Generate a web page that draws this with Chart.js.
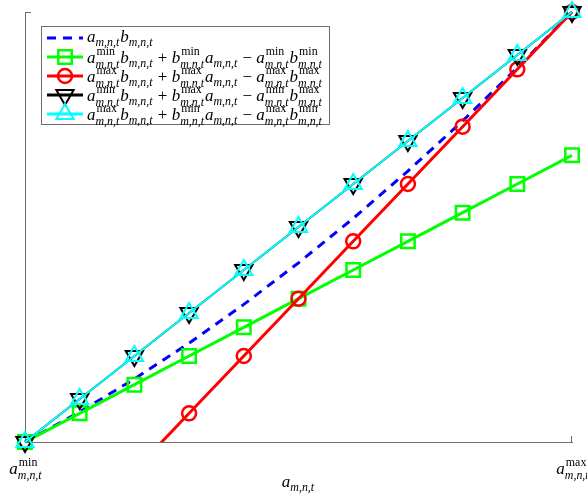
<!DOCTYPE html>
<html>
<head>
<meta charset="utf-8">
<script src="https://cdn.jsdelivr.net/npm/chart.js@4.4.1/dist/chart.umd.min.js"></script>
<style>
  html, body { margin: 0; padding: 0; background: #fff; }
  #wrap { position: relative; width: 587px; height: 497px; }
</style>
</head>
<body>
<div id="wrap"><canvas id="envChart"></canvas></div>
<script>
// a_{m,n,t} sampled between a^min and a^max
const aValues = [1, 1.1, 1.2, 1.3, 1.4, 1.5, 1.6, 1.7, 1.8, 1.9, 2];
const productVals = [1, 1.21, 1.44, 1.69, 1.96, 2.25, 2.56, 2.89, 3.24, 3.61, 4];
const underMinVals = [1, 1.2, 1.4, 1.6, 1.8, 2, 2.2, 2.4, 2.6, 2.8, 3];
const underMaxVals = [0, 0.4, 0.8, 1.2, 1.6, 2, 2.4, 2.8, 3.2, 3.6, 4];
const overMinMaxVals = [1, 1.3, 1.6, 1.9, 2.2, 2.5, 2.8, 3.1, 3.4, 3.7, 4];
const overMaxMinVals = [1, 1.3, 1.6, 1.9, 2.2, 2.5, 2.8, 3.1, 3.4, 3.7, 4];

const xMinLabel = [["a", "min", "m,n,t"]];
const xMaxLabel = [["a", "max", "m,n,t"]];
const xTitle = [["a", "", "m,n,t"]];

// legend formulas: strings are operators, arrays are [base, sup, sub]
const legendTerms = [
  [["a", "", "m,n,t"], ["b", "", "m,n,t"]],
  [["a", "min", "m,n,t"], ["b", "", "m,n,t"], " + ", ["b", "min", "m,n,t"], ["a", "", "m,n,t"], " \u2212 ", ["a", "min", "m,n,t"], ["b", "min", "m,n,t"]],
  [["a", "max", "m,n,t"], ["b", "", "m,n,t"], " + ", ["b", "max", "m,n,t"], ["a", "", "m,n,t"], " \u2212 ", ["a", "max", "m,n,t"], ["b", "max", "m,n,t"]],
  [["a", "min", "m,n,t"], ["b", "", "m,n,t"], " + ", ["b", "max", "m,n,t"], ["a", "", "m,n,t"], " \u2212 ", ["a", "min", "m,n,t"], ["b", "max", "m,n,t"]],
  [["a", "max", "m,n,t"], ["b", "", "m,n,t"], " + ", ["b", "min", "m,n,t"], ["a", "", "m,n,t"], " \u2212 ", ["a", "max", "m,n,t"], ["b", "min", "m,n,t"]],
];

const AXIS = "#6e6e6e";
const SERIF = '"Liberation Serif", "DejaVu Serif", serif';

function pts(vals) {
  return aValues.map((a, i) => ({ x: a, y: vals[i] }));
}

function drawMath(ctx, x, y, tokens, size, align) {
  const small = size * 0.7;
  const pieces = [];
  let w = 0;
  for (const t of tokens) {
    if (typeof t === "string") {
      ctx.font = `${size}px ${SERIF}`;
      const tw = ctx.measureText(t).width;
      pieces.push({ kind: "op", t, w: tw });
      w += tw;
    } else {
      ctx.font = `italic ${size}px ${SERIF}`;
      const bw = ctx.measureText(t[0]).width;
      ctx.font = `${small}px ${SERIF}`;
      const supw = t[1] ? ctx.measureText(t[1]).width : 0;
      ctx.font = `italic ${small}px ${SERIF}`;
      const subw = t[2] ? ctx.measureText(t[2]).width : 0;
      const tw = bw + Math.max(supw + 1, subw) + 1;
      pieces.push({ kind: "sym", t, bw, w: tw });
      w += tw;
    }
  }
  let cx = align === "center" ? x - w / 2 : x;
  ctx.textBaseline = "alphabetic";
  ctx.textAlign = "left";
  ctx.fillStyle = "#000";
  for (const p of pieces) {
    if (p.kind === "op") {
      ctx.font = `${size}px ${SERIF}`;
      ctx.fillText(p.t, cx, y);
    } else {
      const [base, sup, sub] = p.t;
      ctx.font = `italic ${size}px ${SERIF}`;
      ctx.fillText(base, cx, y);
      const sx = cx + p.bw;
      if (sup) {
        ctx.font = `${small}px ${SERIF}`;
        ctx.fillText(sup, sx + 1, y - size * 0.5);
      }
      if (sub) {
        ctx.font = `italic ${small}px ${SERIF}`;
        ctx.fillText(sub, sx, y + size * (sup ? 0.3 : 0.22));
      }
    }
    cx += p.w;
  }
}

function markerAt(ctx, ds, x, y) {
  if (!ds.pointRadius) return;
  const opts = {
    pointStyle: ds.pointStyle,
    radius: ds.pointRadius,
    rotation: ds.pointRotation || 0,
    borderWidth: ds.pointBorderWidth,
  };
  ctx.strokeStyle = ds.borderColor;
  ctx.fillStyle = "rgba(0,0,0,0)";
  ctx.lineWidth = ds.pointBorderWidth;
  ctx.setLineDash([]);
  Chart.helpers.drawPoint(ctx, opts, x, y);
}

const decorPlugin = {
  id: "decor",
  afterDraw(chart) {
    const ctx = chart.ctx;
    const { left, right, top, bottom } = chart.chartArea;
    ctx.save();
    // small inward ticks at axis ends
    ctx.strokeStyle = AXIS;
    ctx.lineWidth = 1;
    ctx.beginPath();
    ctx.moveTo(left, top + 0.5);
    ctx.lineTo(left + 6, top + 0.5);
    ctx.moveTo(right - 0.5, bottom);
    ctx.lineTo(right - 0.5, bottom - 6);
    ctx.stroke();

    // x tick labels and title
    drawMath(ctx, left + 1, bottom + 32, xMinLabel, 17, "center");
    drawMath(ctx, right + 1, bottom + 32, xMaxLabel, 17, "center");
    drawMath(ctx, (left + right) / 2, bottom + 45, xTitle, 17, "center");

    // legend box
    const lx = 41.5, ly = 26.5, lw = 288, lh = 98;
    ctx.fillStyle = "#fff";
    ctx.fillRect(lx, ly, lw, lh);
    ctx.strokeStyle = AXIS;
    ctx.lineWidth = 1;
    ctx.strokeRect(lx, ly, lw, lh);
    const rows = [38, 57, 76, 95, 114];
    const dsets = chart.data.datasets;
    rows.forEach((ry, i) => {
      const ds = dsets[i];
      ctx.strokeStyle = ds.borderColor;
      ctx.lineWidth = 3;
      ctx.setLineDash(ds.borderDash || []);
      ctx.beginPath();
      ctx.moveTo(47, ry);
      ctx.lineTo(83, ry);
      ctx.stroke();
      markerAt(ctx, ds, 65, ry);
      drawMath(ctx, 87, ry + (i === 0 ? 4 : 6), legendTerms[i], 17, "left");
    });
    ctx.restore();
  },
};

new Chart(document.getElementById("envChart"), {
  type: "line",
  data: {
    datasets: [
      {
        label: "a b",
        data: pts(productVals),
        borderColor: "#0000ff",
        borderWidth: 3,
        borderDash: [9, 7],
        pointRadius: 0,
        clip: false,
        order: 5,
      },
      {
        label: "under min",
        data: pts(underMinVals),
        borderColor: "#00ff00",
        borderWidth: 3,
        pointStyle: "rect",
        pointRadius: 9.5,
        pointBorderWidth: 2.5,
        pointBackgroundColor: "rgba(0,0,0,0)",
        clip: false,
        order: 4,
      },
      {
        label: "under max",
        data: pts(underMaxVals),
        borderColor: "#ff0000",
        borderWidth: 3,
        pointStyle: "circle",
        pointRadius: 7,
        pointBorderWidth: 2.5,
        pointBackgroundColor: "rgba(0,0,0,0)",
        clip: { left: 12, top: 12, right: 12, bottom: 0 },
        order: 3,
      },
      {
        label: "over min max",
        data: pts(overMinMaxVals),
        borderColor: "#000000",
        borderWidth: 2,
        pointStyle: "triangle",
        pointRotation: 180,
        pointRadius: 10,
        pointBorderWidth: 2,
        pointBackgroundColor: "rgba(0,0,0,0)",
        clip: false,
        order: 2,
      },
      {
        label: "over max min",
        data: pts(overMaxMinVals),
        borderColor: "#00ffff",
        borderWidth: 2,
        pointStyle: "triangle",
        pointRadius: 10,
        pointBorderWidth: 2,
        pointBackgroundColor: "rgba(0,0,0,0)",
        clip: false,
        order: 1,
      },
    ],
  },
  options: {
    responsive: true,
    maintainAspectRatio: false,
    animation: false,
    layout: { padding: { left: 25, top: 10, right: 15, bottom: 55 } },
    plugins: {
      legend: { display: false },
      tooltip: { enabled: false },
    },
    elements: { line: { tension: 0 } },
    scales: {
      x: {
        type: "linear",
        min: 1,
        max: 2,
        grid: { display: false },
        ticks: { display: false },
        border: { display: true, color: AXIS, width: 1 },
        afterFit: (s) => { s.height = 0; },
      },
      y: {
        type: "linear",
        min: 1,
        max: 4,
        grid: { display: false },
        ticks: { display: false },
        border: { display: true, color: AXIS, width: 1 },
        afterFit: (s) => { s.width = 0; },
      },
    },
  },
  plugins: [decorPlugin],
});
</script>
</body>
</html>
